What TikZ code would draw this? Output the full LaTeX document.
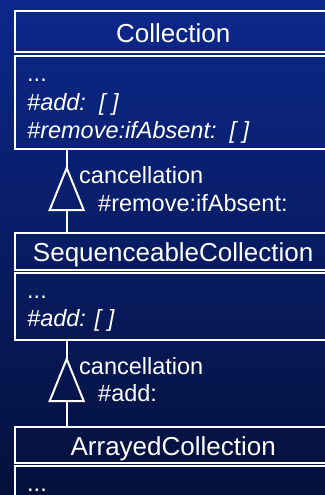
\documentclass[tikz,border=0pt]{standalone}
\usepackage{fontspec}
\setmainfont{Liberation Sans}
\usetikzlibrary{calc}
\definecolor{bgtop}{RGB}{12,40,140}
\definecolor{bgbot}{RGB}{4,16,58}
\tikzset{
  uml/.style={inner sep=0pt, minimum width=316pt, anchor=north west},
  hdrbox/.style={uml, text=white, font=\fontsize{26}{30}\selectfont, text height=21pt, text depth=0pt, text width=316pt, align=center},
  bodybox/.style={uml},
  frame/.style={draw=white, line width=2pt, line join=miter},
  member/.style={anchor=base west, inner sep=0pt, text=white, font=\fontsize{23.5}{28}\selectfont\itshape},
  dots/.style={member, font=\fontsize{23.5}{28}\selectfont},
  conn/.style={draw=white, line width=2pt},
  gen/.style={draw=white, line width=2pt, line join=miter},
  note/.style={anchor=base west, inner sep=0pt, text=white, font=\fontsize{23.5}{28}\selectfont},
}
\begin{document}
\begin{tikzpicture}[x=1pt, y=-1pt]
  \useasboundingbox (0,0) rectangle (324,495);
  \shade[top color=bgtop, bottom color=bgbot] (-6,-6) rectangle (340,501);

  % Collection
  \node[hdrbox, minimum height=41pt] (colh) at (15,11) {Collection};
  \node[bodybox, minimum height=93pt] (colb) at (15,56) {};
  \node[dots]   (colm0) at (27,81.7)  {...};
  \node[member] (colm1) at (27,110)   {\#add:\ \ [ ]};
  \node[member] (colm2) at (27,138)   {\#remove:ifAbsent:\ \ [ ]};

  % SequenceableCollection
  \node[hdrbox, minimum height=36.5pt] (seqh) at (15,232.7) {SequenceableCollection};
  \node[bodybox, minimum height=66pt] (seqb) at (15,273.3) {};
  \node[dots]   (seqm0) at (27,298.3) {...};
  \node[member] (seqm1) at (27,326.7) {\#add: [ ]};

  % ArrayedCollection
  \node[hdrbox, minimum height=36pt] (arrh) at (15,426.7) {ArrayedCollection};
  \node[bodybox, minimum height=60pt] (arrb) at (15,466) {};
  \node[dots]   (arrm0) at (27,491.7) {...};

  % class frames: the right-hand side runs on past the page
  \foreach \b in {colh,colb,seqh,seqb,arrh,arrb}
    \draw[frame] ([xshift=30pt]\b.north east) -- (\b.north west) -- (\b.south west) -- ([xshift=30pt]\b.south east);

  % generalisation: SequenceableCollection -> Collection
  \coordinate (g1) at (66.7,168);
  \draw[conn] (colb.south -| g1) -- (g1);
  \draw[gen] (g1) -- ++(-17,42) -- ++(34,0) -- cycle;
  \draw[conn] ($(g1)+(0,42)$) -- (seqh.north -| g1);
  \node[note] (n1a) at (79,183.5) {cancellation};
  \node[note] (n1b) at (98,211.7) {\#remove:ifAbsent:};

  % generalisation: ArrayedCollection -> SequenceableCollection
  \coordinate (g2) at (66.7,359);
  \draw[conn] (seqb.south -| g2) -- (g2);
  \draw[gen] (g2) -- ++(-17,42) -- ++(34,0) -- cycle;
  \draw[conn] ($(g2)+(0,42)$) -- (arrh.north -| g2);
  \node[note] (n2a) at (79,374) {cancellation};
  \node[note] (n2b) at (98,401.7) {\#add:};
\end{tikzpicture}
\end{document}
